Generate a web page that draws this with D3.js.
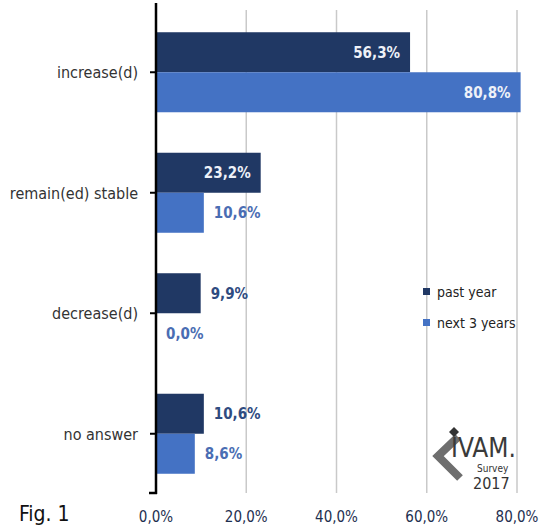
<!doctype html>
<html lang="en">
    <head>
        <meta charset="UTF-8" />
        <title>Fig. 1</title>
        <script src="https://d3js.org/d3.v7.min.js"></script>
        <style>
            body {
                margin: 0;
                background: #fff;
            }
            svg {
                display: block;
                font-family: "Liberation Sans Narrow", "Arial Narrow", "DejaVu Sans Condensed", sans-serif;
            }
        </style>
    </head>
    <body>
        <svg id="chart" width="540" height="527"></svg>
        <script>
            const categories = ["increase(d)", "remain(ed) stable", "decrease(d)", "no answer"];
            const series = ["past year", "next 3 years"];
            const pastYear = [0.563, 0.232, 0.099, 0.106];
            const next3Years = [0.808, 0.106, 0.0, 0.086];
            const xTicks = [0, 0.2, 0.4, 0.6, 0.8];

            const colors = { "past year": "#203864", "next 3 years": "#4472c4" };
            const outsideColors = { "past year": "#2f4b80", "next 3 years": "#4a6db3" };

            const rows = categories.map((c, i) => ({
                category: c,
                values: [
                    { key: "past year", value: pastYear[i] },
                    { key: "next 3 years", value: next3Years[i] },
                ],
            }));

            const locale = d3.formatLocale({
                decimal: ",",
                thousands: ".",
                grouping: [3],
                currency: ["", "€"],
            });
            const pct = locale.format(".1%");

            const svg = d3.select("#chart");
            const plot = { left: 156, right: 517, top: 12, bottom: 494 };

            const x = d3.scaleLinear().domain([0, 0.8]).range([plot.left, plot.right]);
            const y0 = d3
                .scaleBand()
                .domain(categories)
                .range([plot.top, plot.bottom])
                .paddingInner(0.336)
                .paddingOuter(0.168);
            const y1 = d3.scaleBand().domain(series).range([0, y0.bandwidth()]);

            // gridlines
            svg.append("g")
                .selectAll("line")
                .data(xTicks.slice(1))
                .join("line")
                .attr("x1", (d) => x(d))
                .attr("x2", (d) => x(d))
                .attr("y1", 10)
                .attr("y2", 493)
                .attr("stroke", "#c9c9c9")
                .attr("stroke-width", 1.5);

            // bars
            const groups = svg
                .append("g")
                .selectAll("g")
                .data(rows)
                .join("g")
                .attr("transform", (d) => `translate(0,${y0(d.category)})`);

            groups
                .selectAll("rect")
                .data((d) => d.values)
                .join("rect")
                .attr("x", x(0))
                .attr("y", (d) => y1(d.key))
                .attr("width", (d) => x(d.value) - x(0))
                .attr("height", y1.bandwidth())
                .attr("fill", (d) => colors[d.key]);

            groups
                .selectAll("text")
                .data((d) => d.values)
                .join("text")
                .attr("y", (d) => y1(d.key) + y1.bandwidth() / 2)
                .attr("dy", "0.36em")
                .attr("font-size", 15)
                .attr("font-weight", "bold")
                .each(function (d) {
                    const inside = d.value > 0.15;
                    d3.select(this)
                        .attr("x", inside ? x(d.value) - 10 : x(d.value) + 10)
                        .attr("text-anchor", inside ? "end" : "start")
                        .attr("fill", inside ? "#eef1f8" : outsideColors[d.key]);
                })
                .text((d) => pct(d.value));

            // vertical axis
            const yAxis = svg.append("g");
            yAxis
                .append("line")
                .attr("x1", plot.left)
                .attr("x2", plot.left)
                .attr("y1", 3)
                .attr("y2", 494)
                .attr("stroke", "#000")
                .attr("stroke-width", 2.5);
            yAxis
                .selectAll("line.tick")
                .data(categories)
                .join("line")
                .attr("class", "tick")
                .attr("x1", plot.left - 6)
                .attr("x2", plot.left)
                .attr("y1", (d) => y0(d) + y0.bandwidth() / 2)
                .attr("y2", (d) => y0(d) + y0.bandwidth() / 2)
                .attr("stroke", "#000")
                .attr("stroke-width", 2);
            yAxis
                .append("line")
                .attr("x1", plot.left - 7)
                .attr("x2", plot.left + 1)
                .attr("y1", 493)
                .attr("y2", 493)
                .attr("stroke", "#000")
                .attr("stroke-width", 2.5);
            yAxis
                .selectAll("text")
                .data(categories)
                .join("text")
                .attr("x", 138)
                .attr("y", (d) => y0(d) + y0.bandwidth() / 2)
                .attr("dy", "0.36em")
                .attr("text-anchor", "end")
                .attr("font-size", 16)
                .attr("fill", "#333")
                .text((d) => d);

            // horizontal tick labels
            svg.append("g")
                .selectAll("text")
                .data(xTicks)
                .join("text")
                .attr("x", (d) => x(d))
                .attr("y", 522)
                .attr("text-anchor", "middle")
                .attr("font-size", 15)
                .attr("fill", "#1e2f50")
                .text((d) => pct(d));

            svg.append("text")
                .attr("x", 19)
                .attr("y", 521)
                .attr("font-size", 21)
                .attr("fill", "#111")
                .text("Fig. 1");

            // legend
            const legend = svg
                .append("g")
                .selectAll("g")
                .data(series)
                .join("g")
                .attr("transform", (d, i) => `translate(423,${288 + i * 31})`);
            legend
                .append("rect")
                .attr("width", 7)
                .attr("height", 7)
                .attr("fill", (d) => colors[d]);
            legend
                .append("text")
                .attr("x", 14)
                .attr("y", 3.5)
                .attr("dy", "0.36em")
                .attr("font-size", 14)
                .attr("fill", "#222")
                .text((d) => d);

            // IVAM logo
            const logo = svg.append("g").attr("fill", "#555");
            logo.append("path")
                .attr("d", "M458,437 L438,456 L460,478")
                .attr("fill", "none")
                .attr("stroke", "#6e6e6e")
                .attr("stroke-width", 8);
            logo.append("path").attr("d", "M454,427 L459,432 L454,437 L449,432 Z").attr("fill", "#333");
            logo.append("text")
                .attr("x", 451)
                .attr("y", 457)
                .attr("font-size", 26)
                .attr("fill", "#3a3a3a")
                .text("IVAM.");
            logo.append("text")
                .attr("x", 477)
                .attr("y", 472)
                .attr("font-size", 10)
                .attr("fill", "#333")
                .text("Survey");
            logo.append("text")
                .attr("x", 473)
                .attr("y", 489)
                .attr("font-size", 16)
                .attr("fill", "#333")
                .text("2017");
        </script>
    </body>
</html>
